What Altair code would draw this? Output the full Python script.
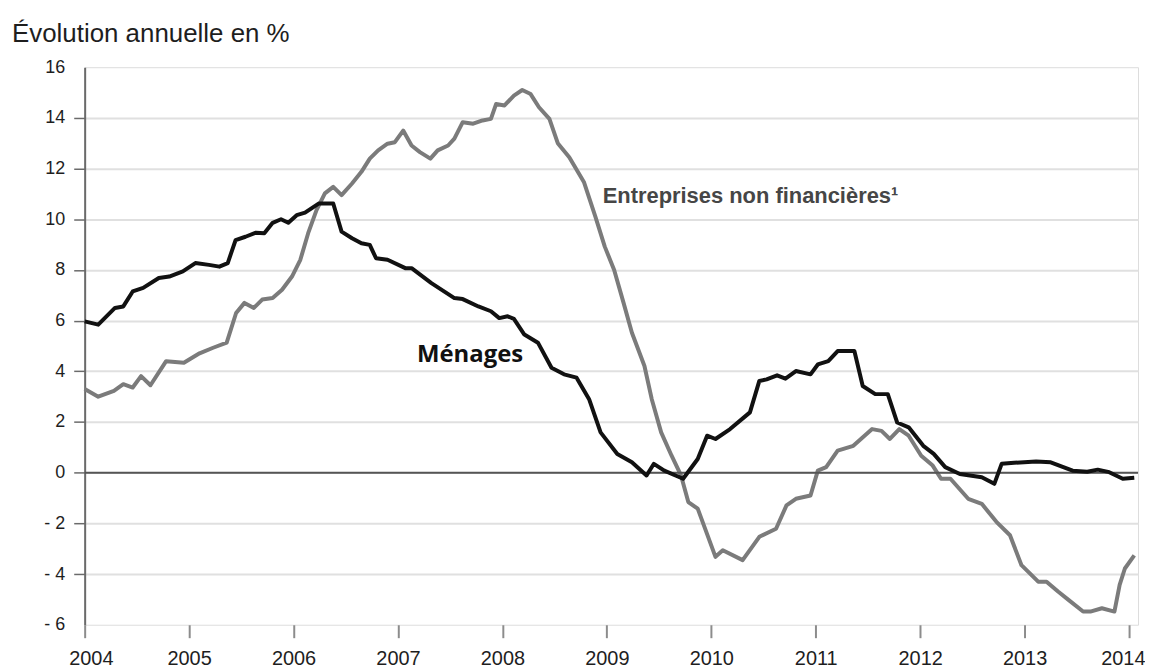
import altair as alt
import pandas as pd

# ---- data (decimal year, annual growth in %) ----
men_t = [2004.00, 2004.13, 2004.29, 2004.37, 2004.46, 2004.56, 2004.71, 2004.81, 2004.94,
         2005.06, 2005.19, 2005.29, 2005.37, 2005.445, 2005.54, 2005.64, 2005.72, 2005.80,
         2005.88, 2005.95, 2006.03, 2006.11, 2006.24, 2006.38, 2006.46, 2006.56, 2006.65,
         2006.73, 2006.79, 2006.90, 2007.07, 2007.13, 2007.32, 2007.54, 2007.62, 2007.77,
         2007.89, 2007.97, 2008.05, 2008.11, 2008.21, 2008.34, 2008.47, 2008.59, 2008.71,
         2008.83, 2008.94, 2009.10, 2009.24, 2009.38, 2009.45, 2009.55, 2009.73, 2009.87,
         2009.96, 2010.04, 2010.18, 2010.37, 2010.46, 2010.53, 2010.63, 2010.71, 2010.81,
         2010.95, 2011.02, 2011.12, 2011.21, 2011.37, 2011.45, 2011.57, 2011.69, 2011.78,
         2011.89, 2012.03, 2012.13, 2012.24, 2012.38, 2012.59, 2012.71, 2012.78, 2012.90,
         2013.11, 2013.25, 2013.46, 2013.60, 2013.70, 2013.81, 2013.94, 2014.05]
men_v = [5.97, 5.84, 6.50, 6.56, 7.15, 7.29, 7.68, 7.74, 7.94,
         8.27, 8.20, 8.13, 8.27, 9.18, 9.31, 9.47, 9.45, 9.86,
         10.00, 9.86, 10.16, 10.26, 10.62, 10.62, 9.51, 9.25, 9.05,
         8.99, 8.46, 8.40, 8.07, 8.07, 7.48, 6.89, 6.85, 6.56,
         6.37, 6.10, 6.17, 6.07, 5.45, 5.13, 4.14, 3.88, 3.75,
         2.90, 1.59, 0.74, 0.41, -0.11, 0.35, 0.08, -0.24, 0.54,
         1.46, 1.33, 1.72, 2.38, 3.62, 3.68, 3.84, 3.71, 4.01,
         3.88, 4.27, 4.40, 4.80, 4.80, 3.42, 3.10, 3.10, 1.98,
         1.79, 1.06, 0.74, 0.22, -0.05, -0.18, -0.44, 0.35, 0.39,
         0.44, 0.41, 0.08, 0.04, 0.12, 0.02, -0.24, -0.20]

ent_t = [2004.00, 2004.13, 2004.28, 2004.37, 2004.46, 2004.54, 2004.63, 2004.78, 2004.95,
         2005.10, 2005.23, 2005.36, 2005.45, 2005.53, 2005.62, 2005.70, 2005.80, 2005.89,
         2005.985, 2006.065, 2006.14, 2006.22, 2006.30, 2006.38, 2006.46, 2006.56, 2006.65,
         2006.73, 2006.81, 2006.90, 2006.97, 2007.05, 2007.13, 2007.21, 2007.31, 2007.38,
         2007.48, 2007.54, 2007.62, 2007.72, 2007.81, 2007.89, 2007.94, 2008.02, 2008.11,
         2008.19, 2008.27, 2008.35, 2008.45, 2008.53, 2008.64, 2008.78, 2008.89, 2008.98,
         2009.07, 2009.16, 2009.24, 2009.36, 2009.43, 2009.52, 2009.62, 2009.71, 2009.78,
         2009.87, 2010.04, 2010.11, 2010.30, 2010.46, 2010.62, 2010.72, 2010.81, 2010.95,
         2011.02, 2011.10, 2011.21, 2011.36, 2011.54, 2011.63, 2011.71, 2011.80, 2011.89,
         2012.01, 2012.12, 2012.20, 2012.29, 2012.46, 2012.59, 2012.73, 2012.86, 2012.97,
         2013.13, 2013.21, 2013.32, 2013.42, 2013.56, 2013.63, 2013.74, 2013.86, 2013.91,
         2013.96, 2014.05]
ent_v = [3.30, 3.00, 3.23, 3.49, 3.36, 3.81, 3.45, 4.40, 4.34,
         4.71, 4.93, 5.13, 6.30, 6.70, 6.50, 6.83, 6.89, 7.22,
         7.74, 8.40, 9.45, 10.36, 11.02, 11.28, 10.95, 11.41, 11.87,
         12.39, 12.72, 12.98, 13.04, 13.50, 12.91, 12.65, 12.39, 12.72,
         12.91, 13.18, 13.83, 13.77, 13.90, 13.96, 14.55, 14.49, 14.88,
         15.10, 14.94, 14.42, 13.96, 13.00, 12.45, 11.47, 10.10, 8.92,
         8.00, 6.70, 5.52, 4.21, 2.90, 1.59, 0.67, -0.11, -1.16,
         -1.42, -3.32, -3.06, -3.45, -2.53, -2.21, -1.29, -1.03, -0.90,
         0.08, 0.22, 0.87, 1.06, 1.72, 1.65, 1.33, 1.72, 1.46,
         0.67, 0.28, -0.24, -0.24, -1.03, -1.23, -1.94, -2.47, -3.65,
         -4.30, -4.30, -4.69, -5.02, -5.48, -5.48, -5.35, -5.48, -4.43,
         -3.78, -3.26]

year_ticks = list(range(2004, 2015))
value_ticks = list(range(-6, 17, 2))

title_text = "Évolution annuelle en %"
label_text = ["Ménages", "Entreprises non financières¹"]
label_t = [2007.69, 2008.96]
label_v = [4.63, 10.91]

# ---- tables ----
men_df = pd.DataFrame({"t": men_t, "v": men_v})
ent_df = pd.DataFrame({"t": ent_t, "v": ent_v})
zero_df = pd.DataFrame({"v": [0]})
lab_df = pd.DataFrame({"label": label_text, "t": label_t, "v": label_v})
title_df = pd.DataFrame({"label": [title_text]})

x_scale = alt.Scale(domain=[2004, 2014.086], nice=False, zero=False)
y_scale = alt.Scale(domain=[-6, 16], nice=False, zero=False)

x_enc = alt.X("t:Q", scale=x_scale, axis=alt.Axis(
    values=year_ticks, format="d", title=None, grid=False, domain=False,
    tickColor="#8c8c8c", tickWidth=2, tickSize=13,
    labelFont="Liberation Sans", labelFontSize=20, labelColor="#1e1e1e",
    labelPadding=11, labelFlush=10, labelFlushOffset=16))
y_enc = alt.Y("v:Q", scale=y_scale, axis=alt.Axis(
    values=value_ticks, title=None,
    labelExpr="datum.value < 0 ? '- ' + abs(datum.value) : datum.label",
    grid=True,
    gridColor={"condition": {"test": "datum.value == 16 || datum.value == -6",
                             "value": "transparent"}, "value": "#e0e0e0"},
    gridWidth=2,
    domainColor="#6a6a6a", domainWidth=2,
    tickColor={"condition": {"test": "datum.value == 16 || datum.value == -6",
                             "value": "transparent"}, "value": "#6a6a6a"},
    tickWidth=1.5, tickSize=11,
    labelFont="Liberation Sans", labelFontSize=18, labelColor="#1e1e1e",
    labelPadding=9))

zero = alt.Chart(zero_df).mark_rule(color="#555555", strokeWidth=2).encode(
    y=alt.Y("v:Q", scale=y_scale))

ent_line = alt.Chart(ent_df).mark_line(
    color="#7b7b7b", strokeWidth=4, strokeJoin="round").encode(
    x=x_enc, y=y_enc, order="t:Q")

men_line = alt.Chart(men_df).mark_line(
    color="#111111", strokeWidth=4, strokeJoin="round").encode(
    x=alt.X("t:Q", scale=x_scale), y=alt.Y("v:Q", scale=y_scale), order="t:Q")

men_label = alt.Chart(lab_df[lab_df.label == "Ménages"]).mark_text(
    font="Open Sans", fontWeight="bold", fontSize=24, color="#111111",
    align="center", baseline="middle").encode(
    x=alt.X("t:Q", scale=x_scale), y=alt.Y("v:Q", scale=y_scale), text="label:N")

ent_label = alt.Chart(lab_df[lab_df.label != "Ménages"]).mark_text(
    font="Liberation Sans", fontWeight="bold", fontSize=22, color="#464646",
    align="left", baseline="middle").encode(
    x=alt.X("t:Q", scale=x_scale), y=alt.Y("v:Q", scale=y_scale), text="label:N")

title = alt.Chart(title_df).mark_text(
    font="Liberation Sans", fontSize=26, color="#1e1e1e",
    align="left", baseline="middle").encode(
    x=alt.value(-73), y=alt.value(-33), text="label:N")

chart = alt.layer(ent_line, zero, men_line, men_label, ent_label, title).properties(
    width=1058, height=560,
    autosize=alt.AutoSizeParams(type="none"),
    padding={"left": 77, "top": 58, "right": 7, "bottom": 44},
).configure_view(fill="#f1f1f1", stroke="transparent", strokeWidth=0).configure(
    background="#ffffff")

chart.save("out.html", embed_options={"renderer": "svg", "actions": False})
